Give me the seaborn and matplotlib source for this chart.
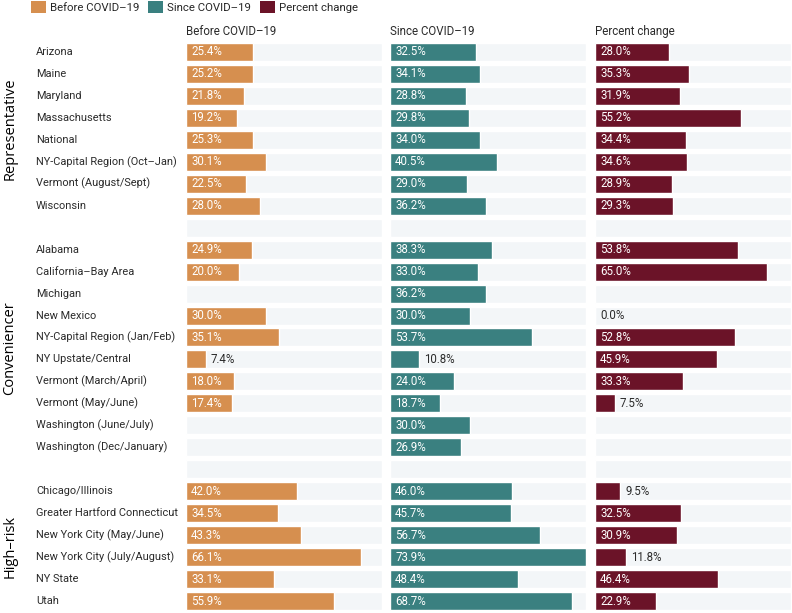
import numpy as np
import pandas as pd
import seaborn as sns
import matplotlib.pyplot as plt
from matplotlib.patches import Patch
from matplotlib.transforms import blended_transform_factory

sns.set_theme(style="white")
plt.rcParams['font.family'] = ['Roboto', 'DejaVu Sans']

# rows (empty strings are the spacer rows between groups)
places = ["Arizona", "Maine", "Maryland", "Massachusetts", "National",
          "NY-Capital Region (Oct–Jan)", "Vermont (August/Sept)", "Wisconsin",
          "",
          "Alabama", "California–Bay Area", "Michigan", "New Mexico",
          "NY-Capital Region (Jan/Feb)", "NY Upstate/Central", "Vermont (March/April)",
          "Vermont (May/June)", "Washington (June/July)", "Washington (Dec/January)",
          "",
          "Chicago/Illinois", "Greater Hartford Connecticut", "New York City (May/June)",
          "New York City (July/August)", "NY State", "Utah"]

nan = np.nan
before = [25.4, 25.2, 21.8, 19.2, 25.3, 30.1, 22.5, 28.0,
          nan,
          24.9, 20.0, nan, 30.0, 35.1, 7.4, 18.0, 17.4, nan, nan,
          nan,
          42.0, 34.5, 43.3, 66.1, 33.1, 55.9]
since = [32.5, 34.1, 28.8, 29.8, 34.0, 40.5, 29.0, 36.2,
         nan,
         38.3, 33.0, 36.2, 30.0, 53.7, 10.8, 24.0, 18.7, 30.0, 26.9,
         nan,
         46.0, 45.7, 56.7, 73.9, 48.4, 68.7]
change = [28.0, 35.3, 31.9, 55.2, 34.4, 34.6, 28.9, 29.3,
          nan,
          53.8, 65.0, nan, 0.0, 52.8, 45.9, 33.3, 7.5, nan, nan,
          nan,
          9.5, 32.5, 30.9, 11.8, 46.4, 22.9]

groups = ["Representative", "Conveniencer", "High–risk"]
group_rows = [(0, 7), (9, 18), (20, 25)]

titles = ["Before COVID–19", "Since COVID–19", "Percent change"]
colors = ["#D68F4F", "#3A8080", "#6B1328"]
bg_color = "#F3F6F8"
text_color = "#2b2b2b"

keys = [str(i) for i in range(len(places))]
xmax = 73.9

fig = plt.figure(figsize=(7.92, 6.13), dpi=100)
W, H = 792, 613
lefts = [186, 390, 595]
top, bottom = 41, 612

for k, (vals, title, col) in enumerate(zip([before, since, change], titles, colors)):
    ax = fig.add_axes([lefts[k] / W, (H - bottom) / H, 196 / W, (bottom - top) / H])
    df = pd.DataFrame({"row": keys, "value": vals, "bg": xmax})
    # light background band for every row
    sns.barplot(data=df, x="bg", y="row", order=keys, color=bg_color,
                width=0.82, saturation=1, ax=ax)
    sns.barplot(data=df.dropna(), x="value", y="row", order=keys, color=col,
                width=0.82, saturation=1, ax=ax)
    ax.set_xlim(0, xmax)
    ax.set_ylim(len(keys) - 0.5, -0.5)
    ax.set_xlabel("")
    ax.set_ylabel("")
    ax.set_xticks([])
    ax.set_yticks([])
    for s in ax.spines.values():
        s.set_visible(False)
    ax.set_facecolor("none")
    ax.text(0, -0.62, title, fontsize=8.3, color=text_color, ha="left", va="bottom")
    for i, v in enumerate(vals):
        if np.isnan(v):
            continue
        if v >= 12:
            ax.text(1.9, i, f"{v:.1f}%", color="white", fontsize=8.3, va="center", ha="left")
        elif v == 0:
            ax.text(1.9, i, f"{v:.1f}%", color=text_color, fontsize=8.3, va="center", ha="left")
        else:
            ax.text(v + 1.9, i, f"{v:.1f}%", color=text_color, fontsize=8.3, va="center", ha="left")
    if k == 0:
        tr = blended_transform_factory(fig.transFigure, ax.transData)
        for i, name in enumerate(places):
            ax.text(36 / W, i, name, transform=tr, fontsize=7.9, color=text_color,
                    ha="left", va="center")
        for g, (a, b) in zip(groups, group_rows):
            ax.text(10 / W, (a + b) / 2, g, transform=tr, fontsize=10.5, rotation=90,
                    family=["Open Sans", "DejaVu Sans"], color="black",
                    ha="center", va="center")

handles = [Patch(facecolor=c, edgecolor="none") for c in colors]
fig.legend(handles, titles, loc="upper left", bbox_to_anchor=(24 / W, 1.01), ncol=3,
           frameon=False, fontsize=8.2, handlelength=1.3, handleheight=1.3,
           handletextpad=0.35, columnspacing=0.8, borderaxespad=0.2)

fig.savefig("out.png", dpi=100)
